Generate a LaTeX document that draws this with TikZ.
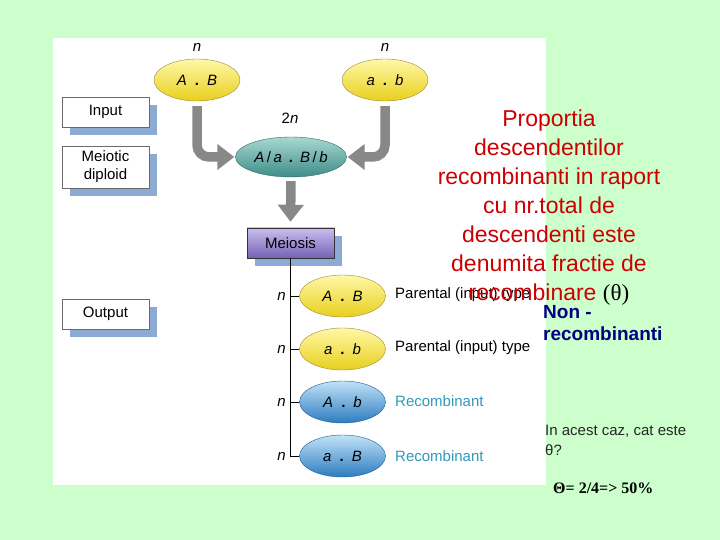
\documentclass[tikz,border=0pt]{standalone}
\usepackage{fontspec}
\setmainfont{Liberation Sans}
\newfontfamily\serifff{Liberation Serif}
\usetikzlibrary{arrows.meta,shapes.geometric,shadows}
\definecolor{bggreen}{HTML}{CCFFCC}
\definecolor{shadowblue}{HTML}{8DAAD2}
\definecolor{boxborder}{HTML}{6A6A6A}
\definecolor{ylight}{HTML}{FFF8A8}
\definecolor{ydark}{HTML}{E8CF1C}
\definecolor{yborder}{HTML}{9A8A3A}
\definecolor{tlight}{HTML}{A8D8D2}
\definecolor{tdark}{HTML}{3E8C88}
\definecolor{tborder}{HTML}{2E6A66}
\definecolor{blight}{HTML}{C2E2F8}
\definecolor{bdark}{HTML}{2C7CC0}
\definecolor{bborder}{HTML}{1E5C8E}
\definecolor{plight}{HTML}{CABEEE}
\definecolor{pdark}{HTML}{7462B6}
\definecolor{arrowgray}{HTML}{888888}
\definecolor{redtxt}{HTML}{CC0000}
\definecolor{navy}{HTML}{000080}
\definecolor{recblue}{HTML}{3399BB}
\tikzset{
  labelbox/.style={draw=boxborder, fill=white, minimum width=87pt, font=\fontsize{15}{18}\selectfont, align=center,
    drop shadow={shadow xshift=8pt, shadow yshift=-8pt, fill=shadowblue, opacity=1}},
  yell/.style={ellipse, draw=yborder, top color=ylight, bottom color=ydark, minimum width=86pt, minimum height=42pt, inner sep=0pt, font=\fontsize{15}{17}\selectfont},
  teal/.style={ellipse, draw=tborder, top color=tlight, bottom color=tdark, minimum width=111pt, minimum height=40pt, inner sep=0pt, font=\fontsize{15}{17}\selectfont},
  blu/.style={ellipse, draw=bborder, top color=blight, bottom color=bdark, minimum width=86pt, minimum height=42pt, inner sep=0pt, font=\fontsize{15}{17}\selectfont},
  meiobox/.style={draw=black!80, top color=plight, bottom color=pdark, minimum width=87pt, minimum height=30pt, font=\fontsize{15}{17}\selectfont,
    drop shadow={shadow xshift=8pt, shadow yshift=-8pt, fill=shadowblue, opacity=1}},
  garrow/.style={draw=arrowgray, line width=9.5pt, rounded corners=12pt, -{Triangle[length=17pt,width=25pt]}},
  treeline/.style={draw=black, line width=0.9pt},
  nlab/.style={font=\fontsize{15}{17}\selectfont\itshape, inner sep=0pt},
  typelab/.style={anchor=west, inner sep=0pt, font=\fontsize{15}{17}\selectfont},
}
\newcommand{\gdot}[2]{\textit{#1}\hspace{8pt}\textbf{.}\hspace{8pt}\textit{#2}}
\begin{document}
\begin{tikzpicture}[x=1pt,y=-1pt]
\useasboundingbox (0,0) rectangle (720,540);
\fill[bggreen] (0,0) rectangle (720,540);
\fill[white] (53,38) rectangle (546,485);

% left label boxes
\node[labelbox, minimum height=30pt] (input) at (105.5,112) {Input};
\node[labelbox, minimum height=42pt] (diploid) at (105.5,167) {Meiotic\\diploid};
\node[labelbox, minimum height=30pt] (output) at (105.5,314) {Output};

% parents
\node[yell] (top1) at (197,80) {\gdot{A}{B}};
\node[yell] (top2) at (385,80) {\gdot{a}{b}};
\node[nlab] (n1) at (197,47) {n};
\node[nlab] (n2) at (385,47) {n};

% heterozygote
\node[teal] (het) at (291,157) {\textit{A}\,/\,\textit{a}\hspace{7pt}\textbf{.}\hspace{7pt}\textit{B}\,/\,\textit{b}};
\node[nlab] (n2n) at (290,118) {\upshape 2\itshape n};

% meiosis
\node[meiobox] (meiosis) at (290.5,243) {Meiosis};

% arrows
\draw[garrow] ([yshift=-5pt]top1.south) |- ([xshift=-1pt]het.west);
\draw[garrow] ([yshift=-5pt]top2.south) |- ([xshift=1pt]het.east);
\draw[garrow, rounded corners=0pt] ([yshift=-4pt]het.south) -- ([yshift=6pt]meiosis.north);

% outputs
\node[yell] (o1) at (342.5,296) {\gdot{A}{B}};
\node[yell] (o2) at (342.5,349) {\gdot{a}{b}};
\node[blu]  (o3) at (342.5,402) {\gdot{A}{b}};
\node[blu]  (o4) at (342.5,456) {\gdot{a}{B}};

\draw[treeline] (meiosis.south) |- (o4.west);
\foreach \o in {o1,o2,o3} \draw[treeline] (meiosis.south |- \o.west) -- (\o.west);

\node[nlab] (m1) at ([xshift=-9pt]meiosis.south |- o1.west) {n};
\node[nlab] (m2) at ([xshift=-9pt]meiosis.south |- o2.west) {n};
\node[nlab] (m3) at ([xshift=-9pt]meiosis.south |- o3.west) {n};
\node[nlab] (m4) at ([xshift=-9pt]meiosis.south |- o4.west) {n};

\node[typelab] (t1) at (395,295) {Parental (input) type};
\node[typelab] (t2) at (395,348) {Parental (input) type};
\node[typelab, text=recblue] (t3) at (395,401) {Recombinant};
\node[typelab, text=recblue] (t4) at (395,456) {Recombinant};

% red explanation
\node[align=center, text=redtxt, font=\fontsize{23}{29}\selectfont, inner sep=0pt] (expl) at (549,208)
  {Proportia\\descendentilor\\recombinanti in raport\\cu nr.total de\\descendenti este\\denumita fractie de\\recombinare {\color{black}\serifff(θ)}};

\node[align=left, anchor=west, text=navy, font=\fontsize{19}{22}\selectfont\bfseries, inner sep=0pt] (nonrec) at (543,323)
  {Non -\\recombinanti};

\node[align=left, anchor=west, text=black!85, font=\fontsize{15}{20}\selectfont, inner sep=0pt] (question) at (545,440)
  {In acest caz, cat este\\θ?};

\node[anchor=west, font=\fontsize{16}{18}\selectfont\serifff\bfseries, inner sep=0pt] (answer) at (553,488)
  {Θ= 2/4=> 50\%};
\end{tikzpicture}
\end{document}
